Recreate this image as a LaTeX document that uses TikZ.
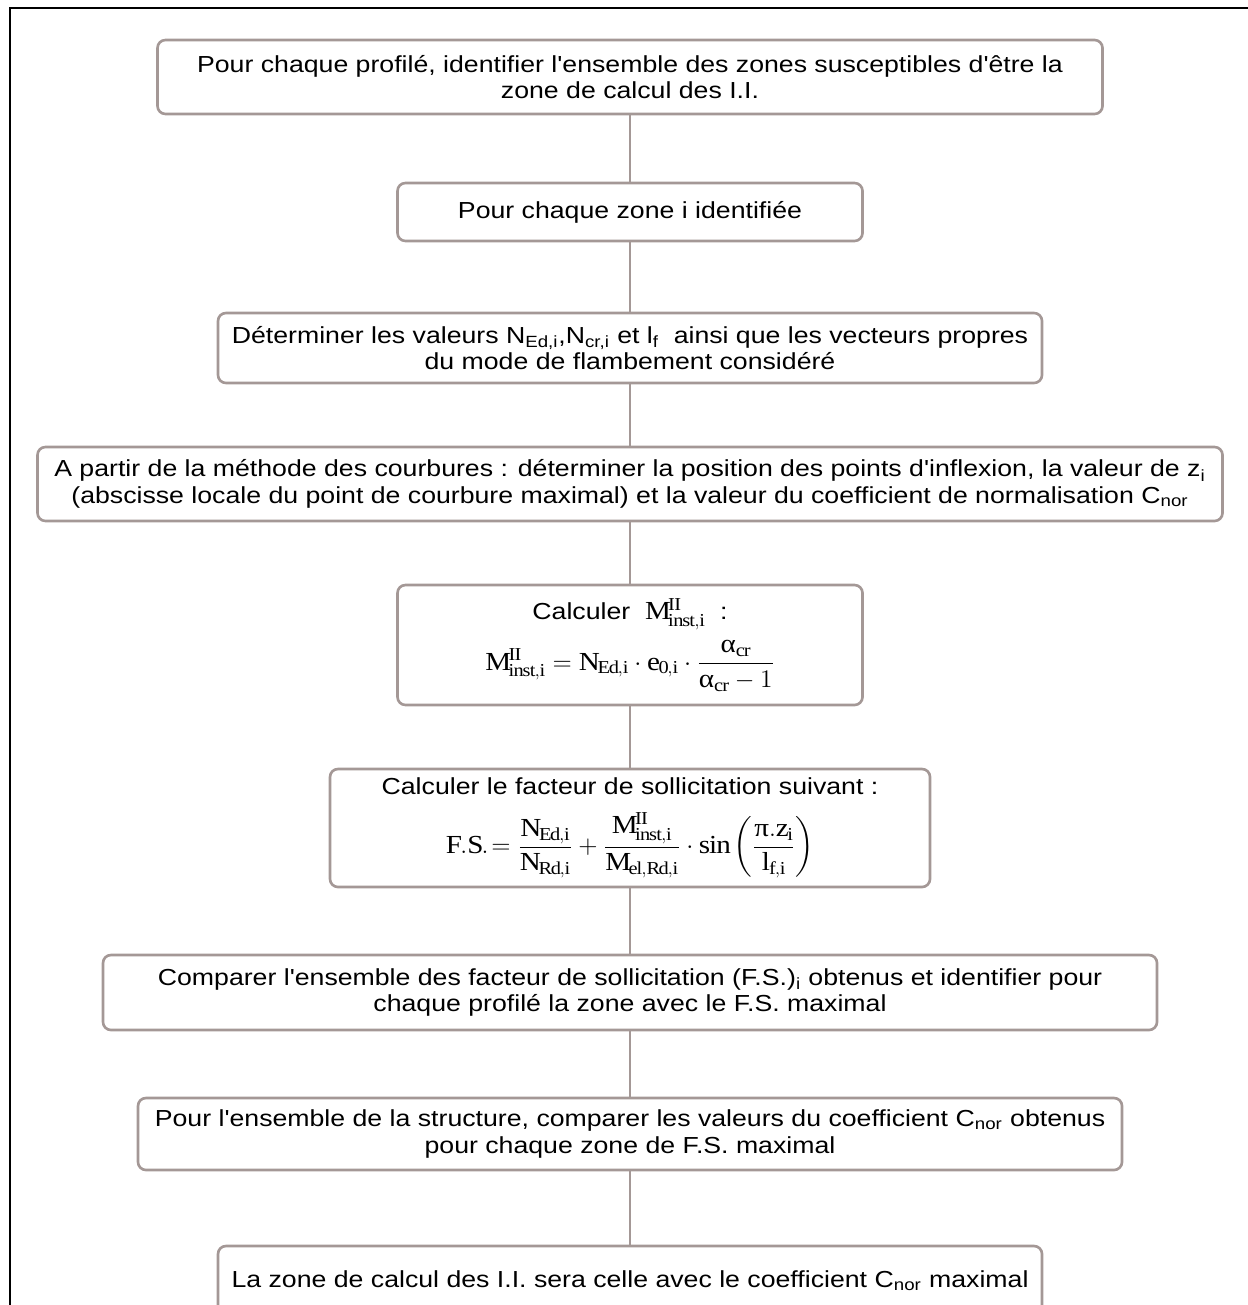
\documentclass[tikz,border=0pt]{standalone}
\usepackage{amsmath}
\usepackage{fontspec}
\setmainfont{Liberation Sans}[Ligatures=TeXOff, FakeStretch=1.15]
\setmathrm{Liberation Serif}[FakeStretch=1.12]
\newfontfamily\tnr{Liberation Serif}[FakeStretch=1.12]
\usetikzlibrary{calc}
\definecolor{bord}{RGB}{164,152,150}
\tikzstyle{etape}=[rectangle, draw=bord, line width=1.5pt, rounded corners=0.16cm, fill=white, align=center, font=\fontsize{13.2}{15.2}\selectfont]
\tikzstyle{lien}=[draw=bord, line width=1.1pt]
\tikzstyle{cadre}=[draw=black, line width=1.2pt]
\newcommand{\ga}{\text{\tnr α}}
\newcommand{\gpi}{\text{\tnr π}}
\newcommand{\Mii}{\mathrm{M}^{\mathrm{II}}_{\mathrm{inst,i}}}
\newcommand{\Nsub}[1]{\mathrm{N}_{\mathrm{#1}}}
\newcommand{\grand}{\fontsize{14.8}{17}\selectfont}

\begin{document}
\begin{tikzpicture}
    \useasboundingbox (0,0) rectangle (24.94,-26.1);
    \draw[cadre] (0.2,-27) -- (0.2,-0.16) -- (25.5,-0.16);
    \node[etape, minimum width=18.9cm, minimum height=1.48cm] (b1) at (12.6,-1.54)
        {Pour chaque profilé, identifier l'ensemble des zones susceptibles d'être la\\zone de calcul des I.I.};
    \node[etape, minimum width=9.3cm, minimum height=1.16cm] (b2) at (12.6,-4.24)
        {Pour chaque zone i identifiée};
    \node[etape, minimum width=16.48cm, minimum height=1.4cm] (b3) at (12.6,-6.96)
        {Déterminer les valeurs N\textsubscript{Ed,i},N\textsubscript{cr,i} et l\textsubscript{f}\ \ ainsi que les vecteurs propres\\du mode de flambement considéré};
    \node[etape, minimum width=23.7cm, minimum height=1.48cm] (b4) at (12.6,-9.68)
        {A partir de la méthode des courbures : déterminer la position des points d'inflexion, la valeur de z\textsubscript{i}\\(abscisse locale du point de courbure maximal) et la valeur du coefficient de normalisation C\textsubscript{nor}};
    \node[etape, minimum width=9.3cm, minimum height=2.4cm] (b5) at (12.6,-12.9)
        {Calculer\ \ {\grand$\Mii$}\ \ :\\[5pt]
        \grand$\Mii = \Nsub{Ed,i}\cdot\mathrm{e}_{\mathrm{0,i}}\cdot\dfrac{\ga_{\mathrm{cr}}}{\ga_{\mathrm{cr}}-1}$};
    \node[etape, minimum width=12cm, minimum height=2.36cm] (b6) at (12.6,-16.56)
        {Calculer le facteur de sollicitation suivant :\\[9pt]
        \grand$\mathrm{F.S.}\!=\dfrac{\Nsub{Ed,i}}{\Nsub{Rd,i}}+\dfrac{\Mii}{\mathrm{M}_{\mathrm{el,Rd,i}}}\cdot\sin\left(\dfrac{\gpi.\mathrm{z}_{\mathrm{i}}}{\mathrm{l}_{\mathrm{f,i}}}\right)$};
    \node[etape, minimum width=21.08cm, minimum height=1.5cm] (b7) at (12.6,-19.85)
        {Comparer l'ensemble des facteur de sollicitation (F.S.)\textsubscript{i} obtenus et identifier pour\\chaque profilé la zone avec le F.S. maximal};
    \node[etape, minimum width=19.68cm, minimum height=1.44cm] (b8) at (12.6,-22.68)
        {Pour l'ensemble de la structure, comparer les valeurs du coefficient C\textsubscript{nor} obtenus\\pour chaque zone de F.S. maximal};
    \node[etape, minimum width=16.48cm, minimum height=1.4cm] (b9) at (12.6,-25.62)
        {La zone de calcul des I.I. sera celle avec le coefficient C\textsubscript{nor} maximal};
    \draw[lien] (b1.south) -- (b2.north);
    \draw[lien] (b2.south) -- (b3.north);
    \draw[lien] (b3.south) -- (b4.north);
    \draw[lien] (b4.south) -- (b5.north);
    \draw[lien] (b5.south) -- (b6.north);
    \draw[lien] (b6.south) -- (b7.north);
    \draw[lien] (b7.south) -- (b8.north);
    \draw[lien] (b8.south) -- (b9.north);
\end{tikzpicture}
\end{document}
